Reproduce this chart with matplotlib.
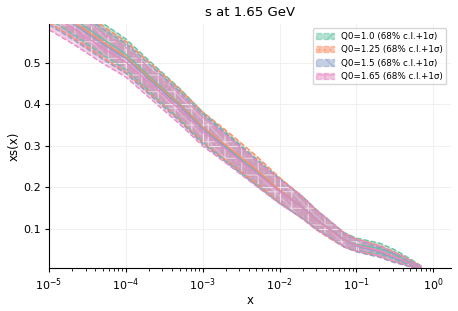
import matplotlib
matplotlib.use("Agg")
import matplotlib.pyplot as plt
from matplotlib.patches import Patch
import numpy as np

# x nodes (log grid)
x = [1e-5, 2e-5, 5e-5, 1e-4, 2e-4, 5e-4, 1e-3, 2e-3, 5e-3, 1e-2, 2e-2,
     3e-2, 5e-2, 7e-2, 0.1, 0.15, 0.2, 0.3, 0.4, 0.5, 0.6, 0.7]

# central values per starting scale Q0
c_10 = [0.645, 0.608, 0.557, 0.520, 0.468, 0.401, 0.345, 0.298, 0.237, 0.192, 0.151,
        0.123, 0.093, 0.073, 0.062, 0.056, 0.052, 0.039, 0.028, 0.019, 0.012, 0.006]
c_125 = [0.636, 0.600, 0.550, 0.514, 0.464, 0.399, 0.344, 0.301, 0.242, 0.193, 0.150,
         0.121, 0.091, 0.072, 0.060, 0.052, 0.046, 0.033, 0.024, 0.016, 0.010, 0.005]
c_15 = [0.630, 0.595, 0.545, 0.510, 0.460, 0.395, 0.340, 0.295, 0.235, 0.190, 0.150,
        0.122, 0.092, 0.071, 0.058, 0.049, 0.043, 0.030, 0.022, 0.015, 0.010, 0.005]
c_165 = [0.618, 0.584, 0.535, 0.501, 0.452, 0.388, 0.334, 0.291, 0.233, 0.189, 0.150,
         0.122, 0.092, 0.072, 0.060, 0.052, 0.046, 0.033, 0.024, 0.016, 0.010, 0.005]

# half widths of the 68% bands
e_10 = [0.040, 0.039, 0.038, 0.037, 0.037, 0.037, 0.036, 0.034, 0.031, 0.029, 0.026,
        0.023, 0.019, 0.017, 0.015, 0.014, 0.013, 0.012, 0.010, 0.008, 0.006, 0.004]
e_125 = [0.040, 0.039, 0.038, 0.037, 0.037, 0.037, 0.037, 0.036, 0.033, 0.030, 0.027,
         0.024, 0.020, 0.017, 0.015, 0.014, 0.013, 0.012, 0.010, 0.008, 0.006, 0.004]
e_15 = [0.039, 0.038, 0.037, 0.036, 0.036, 0.036, 0.036, 0.034, 0.031, 0.029, 0.026,
        0.023, 0.019, 0.016, 0.014, 0.013, 0.012, 0.011, 0.009, 0.007, 0.005, 0.004]
e_165 = [0.039, 0.038, 0.037, 0.036, 0.036, 0.036, 0.035, 0.033, 0.031, 0.029, 0.026,
         0.023, 0.019, 0.016, 0.014, 0.013, 0.012, 0.011, 0.009, 0.007, 0.005, 0.004]

labels = ["Q0=1.0 (68% c.l.+1σ)", "Q0=1.25 (68% c.l.+1σ)",
          "Q0=1.5 (68% c.l.+1σ)", "Q0=1.65 (68% c.l.+1σ)"]
colors = ["#66c2a5", "#fc8d62", "#8da0cb", "#e78ac3"]
hatches = ["//", "...", "\\\\", "+"]

fig, ax = plt.subplots(figsize=(4.58, 3.11), dpi=100)
handles = []
for c, e, col, h, lab in zip([c_10, c_125, c_15, c_165], [e_10, e_125, e_15, e_165],
                             colors, hatches, labels):
    c = np.array(c)
    e = np.array(e)
    ax.fill_between(x, c - e, c + e, facecolor=col, alpha=0.45, hatch=h,
                    edgecolor="white", linewidth=0)
    ax.plot(x, c, color=col, lw=1.0)
    ax.plot(x, c - e, color=col, lw=1.0, ls="--")
    ax.plot(x, c + e, color=col, lw=1.0, ls="--")
    handles.append(Patch(facecolor=col, alpha=0.5, hatch=h, edgecolor=col,
                         linestyle="--", label=lab))

ax.set_xscale("log")
ax.set_xlim(1e-5, 1.69)
ax.set_ylim(0.004, 0.593)
ax.set_yticks([0.1, 0.2, 0.3, 0.4, 0.5])
ax.grid(True, color="#eeeeee", lw=0.6)
ax.spines["top"].set_visible(False)
ax.spines["right"].set_visible(False)
ax.set_xlabel("x", fontsize=8.5, labelpad=1)
ax.set_ylabel("xs(x)", fontsize=8.5, labelpad=2)
ax.set_title("s at 1.65 GeV", fontsize=9.5)
ax.tick_params(labelsize=8, length=3, pad=2.5)
ax.tick_params(which="minor", length=1.8)
ax.legend(handles=handles, loc="upper right", fontsize=6.3, framealpha=0.8)

fig.subplots_adjust(left=0.107, right=0.984, top=0.923, bottom=0.137)
fig.savefig("out.png", dpi=100)
